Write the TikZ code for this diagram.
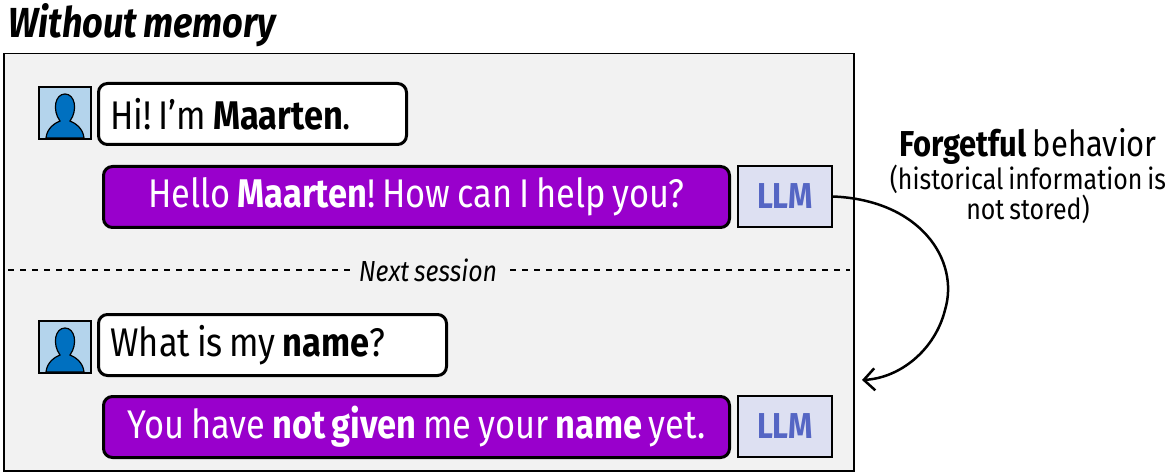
\documentclass[tikz,border=0pt]{standalone}
\usepackage{fontspec}
\setmainfont{Fira Sans}[FakeStretch=0.86,WordSpace=0.75]
\frenchspacing
\usetikzlibrary{arrows.meta}
\definecolor{bggray}{HTML}{F2F2F2}
\definecolor{purp}{HTML}{9900CC}
\definecolor{llmfill}{HTML}{DDE0F2}
\definecolor{llmtext}{HTML}{5566C4}
\definecolor{iconbg}{HTML}{B4D4EC}
\definecolor{iconfg}{HTML}{0070C0}
\tikzset{
 ubub/.style={draw,line width=3pt,rounded corners=9pt,fill=white,minimum height=61pt,anchor=north west,inner xsep=12pt,font=\fontsize{40}{40}\selectfont},
 bbub/.style={draw,line width=3pt,rounded corners=9pt,fill=purp,text=white,minimum height=61pt,minimum width=626pt,anchor=north west,font=\fontsize{40}{40}\selectfont},
 llm/.style={draw,line width=2pt,fill=llmfill,text=llmtext,minimum height=61pt,minimum width=94pt,anchor=north west,font=\fontsize{36}{36}\selectfont\bfseries},
 icon/.style={draw,line width=2pt,fill=iconbg,minimum size=52pt,anchor=north west,inner sep=0pt},
}
\newcommand{\person}[1]{%
 \fill[iconfg,draw=black,line width=1.2pt] ([xshift=-19pt,yshift=2pt]#1.south) .. controls ([xshift=-18pt,yshift=12pt]#1.south) and ([xshift=-10pt,yshift=17pt]#1.south) .. ([xshift=-5pt,yshift=19pt]#1.south) .. controls ([xshift=-13pt,yshift=30pt]#1.south) and ([xshift=-10pt,yshift=46pt]#1.south) .. ([yshift=46pt]#1.south) .. controls ([xshift=10pt,yshift=46pt]#1.south) and ([xshift=13pt,yshift=30pt]#1.south) .. ([xshift=5pt,yshift=19pt]#1.south) .. controls ([xshift=10pt,yshift=17pt]#1.south) and ([xshift=18pt,yshift=12pt]#1.south) .. ([xshift=19pt,yshift=2pt]#1.south) -- cycle;}
\begin{document}
\begin{tikzpicture}[x=1pt,y=-1pt]
\useasboundingbox (0,0) rectangle (1175,473);
\node[anchor=north west,inner sep=0pt,font=\fontsize{42}{42}\selectfont\bfseries\itshape] (title) at (8,3) {Without memory};
\node[draw,line width=1.5pt,fill=bggray,anchor=north west,minimum width=850pt,minimum height=417pt,inner sep=0pt] (panel) at (3,53) {};
\node[icon] (i1) at (38,86) {};
\person{i1}
\node[ubub] (u1) at (97,82) {\makebox[284pt][l]{Hi! I’m \textbf{Maarten}.}};
\node[bbub] (b1) at (102,165) {Hello \textbf{Maarten}! How can I help you?};
\node[llm] (l1) at (737,165) {LLM};
\draw[line width=2.5pt,dash pattern=on 6pt off 6pt] (8,270) -- (350,270);
\draw[line width=2.5pt,dash pattern=on 6pt off 6pt] (510,270) -- (850,270);
\node[font=\fontsize{29}{29}\selectfont\itshape] (ns) at (428,270) {Next session};
\node[icon] (i2) at (38,320) {};
\person{i2}
\node[ubub] (u2) at (97,313) {\makebox[324pt][l]{What is my \textbf{name}?}};
\node[bbub] (b2) at (102,395) {You have \textbf{not given} me your \textbf{name} yet.};
\node[llm] (l2) at (737,395) {LLM};
\node[align=center,font=\fontsize{29}{30}\selectfont] (fb) at (1028,176) {{\fontsize{36}{36}\selectfont\textbf{Forgetful} behavior}\\[0pt](historical information is\\not stored)};
\draw[line width=2.5pt,-{Straight Barb[length=11pt,width=22pt]}] (l1.east) .. controls (920,200) and (960,260) .. (945,310) .. controls (935,350) and (900,378) .. (862,380);
\end{tikzpicture}
\end{document}
